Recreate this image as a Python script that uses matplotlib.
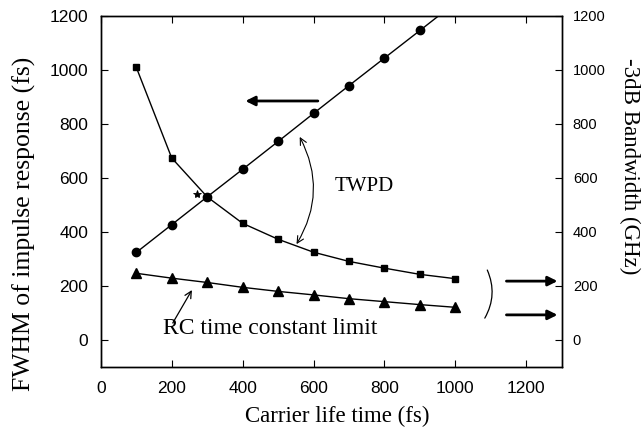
import numpy as np
import matplotlib.pyplot as plt

# values
lifetime = [100, 200, 300, 400, 500, 600, 700, 800, 900, 1000]
fwhm = [324, 427, 530, 632, 735, 839, 942, 1044, 1146, 1249]
twpd_bw = [1010, 674, 530, 432, 373, 325, 291, 266, 243, 227]
rc_bw = [247, 229, 213, 195, 180, 167, 153, 142, 131, 121]
star_pt = (270, 540)

serif = ['Liberation Serif', 'DejaVu Serif']
sans = ['Liberation Sans', 'DejaVu Sans']

fig = plt.figure(figsize=(6.42, 4.30), dpi=100)
ax = fig.add_axes([0.157, 0.1465, 0.718, 0.8165])

ax.plot(lifetime, fwhm, 'k-', marker='o', ms=6, lw=1)
ax.plot(lifetime, twpd_bw, 'k-', marker='s', ms=4.5, lw=1)
ax.plot(lifetime, rc_bw, 'k-', marker='^', ms=6.5, lw=1)
ax.plot(*star_pt, marker='*', color='k', ms=6, mew=0.6, ls='none')

ax.set_xlim(0, 1300)
ax.set_ylim(-100, 1200)
ax.set_xticks(range(0, 1201, 200))
ax.set_yticks(range(0, 1201, 200))
ax.tick_params(direction='in', length=5, width=0.8, top=True, right=False,
               labelsize=12.5)
ax.tick_params(axis='y', pad=9)
ax.tick_params(axis='x', pad=10)
for lab in ax.get_xticklabels() + ax.get_yticklabels():
    lab.set_family(sans)

ax2 = ax.twinx()
ax2.set_ylim(-100, 1200)
ax2.set_yticks(range(0, 1201, 200))
ax2.tick_params(direction='in', length=5, width=0.8, labelsize=10.5, pad=8)
for lab in ax2.get_yticklabels():
    lab.set_family(sans)

for a in (ax, ax2):
    for s in a.spines.values():
        s.set_linewidth(1.0)

# axis titles
ax.text(0.514, -0.142, 'Carrier life time (fs)', transform=ax.transAxes,
        family=serif, fontsize=16.5, ha='center', va='center')
ax.text(-0.167, 0.407, 'FWHM of impulse response (fs)', transform=ax.transAxes,
        family=serif, fontsize=18.5, ha='center', va='center', rotation=90)
ax.text(1.146, 0.573, '-3dB Bandwidth (GHz)', transform=ax.transAxes,
        family=serif, fontsize=16.5, ha='center', va='center', rotation=-90)

# left-pointing arrow (FWHM -> left axis)
ax.annotate('', xy=(400, 885), xytext=(620, 885),
            arrowprops=dict(arrowstyle='-|>', lw=2, color='k', mutation_scale=14))

# TWPD label with curved double arrow
ax.text(659, 567, 'TWPD', family=serif, fontsize=15, va='center', ha='left')
ax.annotate('', xy=(561, 752), xytext=(552, 355),
            arrowprops=dict(arrowstyle='<->', lw=0.8, color='k', mutation_scale=12,
                            connectionstyle='arc3,rad=0.28', shrinkA=0, shrinkB=0))

# RC label
ax.text(175, 44, 'RC time constant limit', family=serif, fontsize=17, va='center')
ax.annotate('', xy=(257, 185), xytext=(203, 63),
            arrowprops=dict(arrowstyle='->', lw=0.9, color='k', mutation_scale=12,
                            shrinkA=0, shrinkB=0))

# bracket + arrows to right axis
ax.annotate('', xy=(1083, 81), xytext=(1090, 259),
            arrowprops=dict(arrowstyle='-', lw=0.9, color='k',
                            connectionstyle='arc3,rad=-0.25', shrinkA=0, shrinkB=0))
for yv in (218, 93):
    ax.annotate('', xy=(1288, yv), xytext=(1144, yv),
                arrowprops=dict(arrowstyle='-|>', lw=2, color='k', mutation_scale=14,
                                shrinkA=0, shrinkB=0))

fig.savefig('out.png', dpi=100)
